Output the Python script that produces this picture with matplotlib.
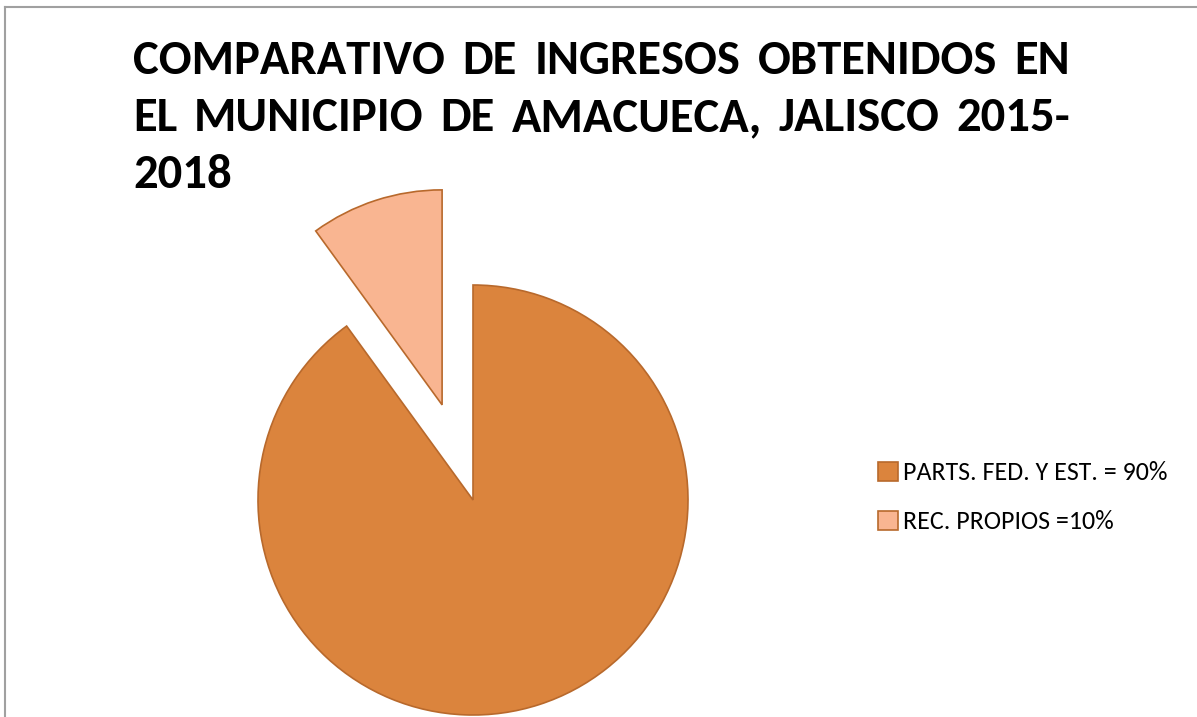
import matplotlib
matplotlib.use('Agg')
import matplotlib.pyplot as plt
from matplotlib import font_manager as fm
from matplotlib.lines import Line2D

# datos
categorias = ['PARTS. FED. Y EST. = 90%', 'REC. PROPIOS =10%']
valores = [90, 10]
colores = ['#DB843D', '#F9B591']
titulo = ['COMPARATIVO DE INGRESOS OBTENIDOS EN',
          'EL MUNICIPIO DE AMACUECA, JALISCO 2015-',
          '2018']

# Carlito = metricas de Calibri, si esta instalada
try:
    fm.findfont('Carlito', fallback_to_default=False)
    fuente = 'Carlito'
except ValueError:
    fuente = 'Lato'

W, H = 1197, 717
fig = plt.figure(figsize=[W / 100, H / 100], dpi=100)
ax = fig.add_axes([0, 0, 1, 1])

# pastel (explode en unidades de datos = pixeles)
wedges, _ = ax.pie(valores, colors=colores, startangle=90, counterclock=False,
                   explode=[0, 100], center=(473, H - 500), radius=215, frame=True,
                   wedgeprops=dict(edgecolor='#B8692C', linewidth=1.2))
ax.set_xlim(0, W)
ax.set_ylim(0, H)
ax.set_aspect('equal')
ax.axis('off')

# borde del area del grafico
fig.add_artist(Line2D([5 / W, 5 / W], [0, 1 - 7 / H], color='#a0a0a0', lw=1.5))
fig.add_artist(Line2D([5 / W, 1], [1 - 7 / H, 1 - 7 / H], color='#a0a0a0', lw=1.5))

# titulo justificado
fig.canvas.draw()
renderer = fig.canvas.get_renderer()
x0, x1 = 133, 1070
baselines = [74, 131, 188]
for i, linea in enumerate(titulo):
    palabras = linea.split(' ')
    textos = [fig.text(0, 0, p, fontsize=35, fontweight='bold', family=fuente,
                       va='baseline', ha='left') for p in palabras]
    anchos = [t.get_window_extent(renderer).width for t in textos]
    if len(palabras) > 1 and i < len(titulo) - 1:
        gap = (x1 - x0 - sum(anchos)) / (len(palabras) - 1)
    else:
        gap = 0
    x = x0
    for t, a in zip(textos, anchos):
        t.set_position((x / W, 1 - baselines[i] / H))
        x += a + gap

# leyenda
ax.legend(wedges, categorias, loc='upper left', bbox_to_anchor=(855 / W, 1 - 438 / H),
          frameon=False, prop={'family': fuente, 'size': 18.7},
          handlelength=0.75, handleheight=0.75, handletextpad=0.2, labelspacing=1.0)

plt.savefig('out.png', dpi=100)
